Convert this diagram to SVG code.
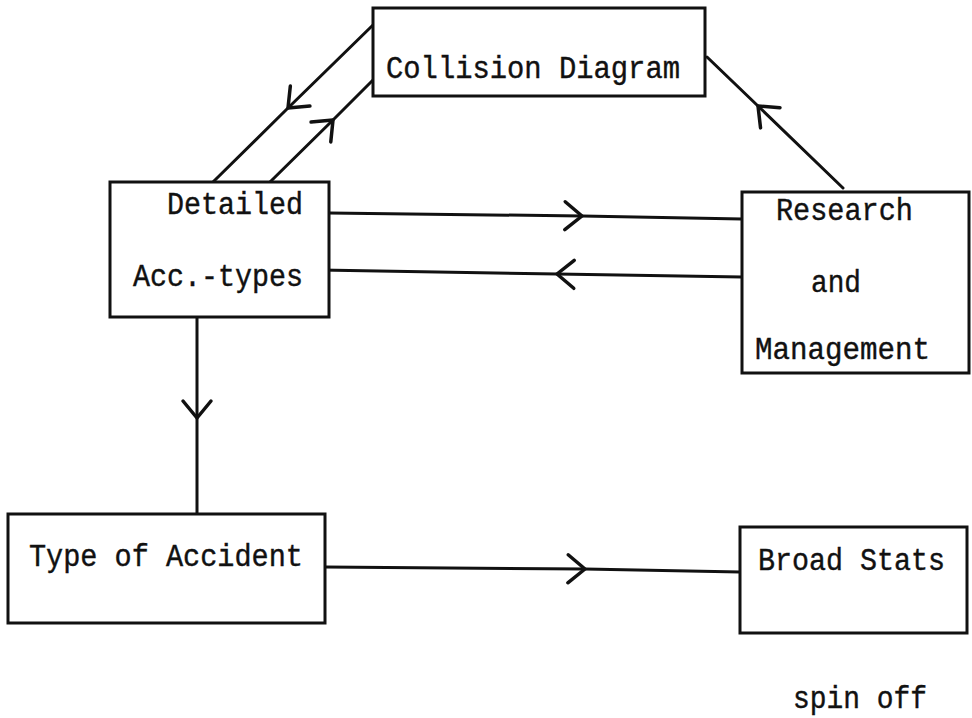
<svg xmlns="http://www.w3.org/2000/svg" width="972" height="718" viewBox="0 0 972 718">
  <style>
    .box { fill: #fff; stroke: #111; stroke-width: 3; }
    .lbl { font-family: "Liberation Mono", "Courier New", monospace; font-size: 31px; fill: #111; stroke: #111; stroke-width: 0.4; }
    .conn { fill: none; stroke: #111; stroke-width: 3; stroke-linecap: round; stroke-linejoin: round; marker-mid: url(#chev); }
  </style>
  <defs>
    <!-- open chevron placed at the middle vertex of each connector -->
    <marker id="chev" markerUnits="userSpaceOnUse" viewBox="-20 -16 24 32" refX="0" refY="0" markerWidth="24" markerHeight="32" orient="auto" overflow="visible">
      <path d="M -17,-14 L 0,0 L -17,14" fill="none" stroke="#111" stroke-width="3.5" stroke-linecap="round" stroke-linejoin="round"/>
    </marker>
  </defs>
  <rect width="972" height="718" fill="#fff"/>

  <g id="connectors">
    <path class="conn" d="M 373,25 L 288,108 L 213,182"/>
    <path class="conn" d="M 270,182 L 333,120 L 373,80"/>
    <path class="conn" d="M 843,188 L 758,106 L 707,57"/>
    <path class="conn" d="M 329,213 L 582,216 L 742,219"/>
    <path class="conn" d="M 742,277 L 557,274 L 320,270"/>
    <path class="conn" d="M 197,317 L 197,418 L 197,514"/>
    <path class="conn" d="M 325,567 L 585,569 L 740,572"/>
  </g>

  <g id="collision-diagram">
    <rect class="box" x="373" y="8" width="332" height="88"/>
    <text class="lbl" x="386" y="78" textLength="294" lengthAdjust="spacingAndGlyphs">Collision Diagram</text>
  </g>

  <g id="detailed-acc-types">
    <rect class="box" x="110" y="182" width="219" height="135"/>
    <text class="lbl" x="167" y="214" textLength="136" lengthAdjust="spacingAndGlyphs">Detailed</text>
    <text class="lbl" x="133" y="286" textLength="170" lengthAdjust="spacingAndGlyphs">Acc.-types</text>
  </g>

  <g id="research-management">
    <rect class="box" x="742" y="192" width="227" height="181"/>
    <text class="lbl" x="776" y="220" textLength="137" lengthAdjust="spacingAndGlyphs">Research</text>
    <text class="lbl" x="811" y="292" textLength="50" lengthAdjust="spacingAndGlyphs">and</text>
    <text class="lbl" x="755" y="359" textLength="175" lengthAdjust="spacingAndGlyphs">Management</text>
  </g>

  <g id="type-of-accident">
    <rect class="box" x="8" y="514" width="317" height="109"/>
    <text class="lbl" x="29" y="566" textLength="274" lengthAdjust="spacingAndGlyphs">Type of Accident</text>
  </g>

  <g id="broad-stats">
    <rect class="box" x="740" y="527" width="227" height="106"/>
    <text class="lbl" x="758" y="570" textLength="187" lengthAdjust="spacingAndGlyphs">Broad Stats</text>
  </g>

  <text class="lbl" x="793" y="708" textLength="134" lengthAdjust="spacingAndGlyphs">spin off</text>
</svg>
